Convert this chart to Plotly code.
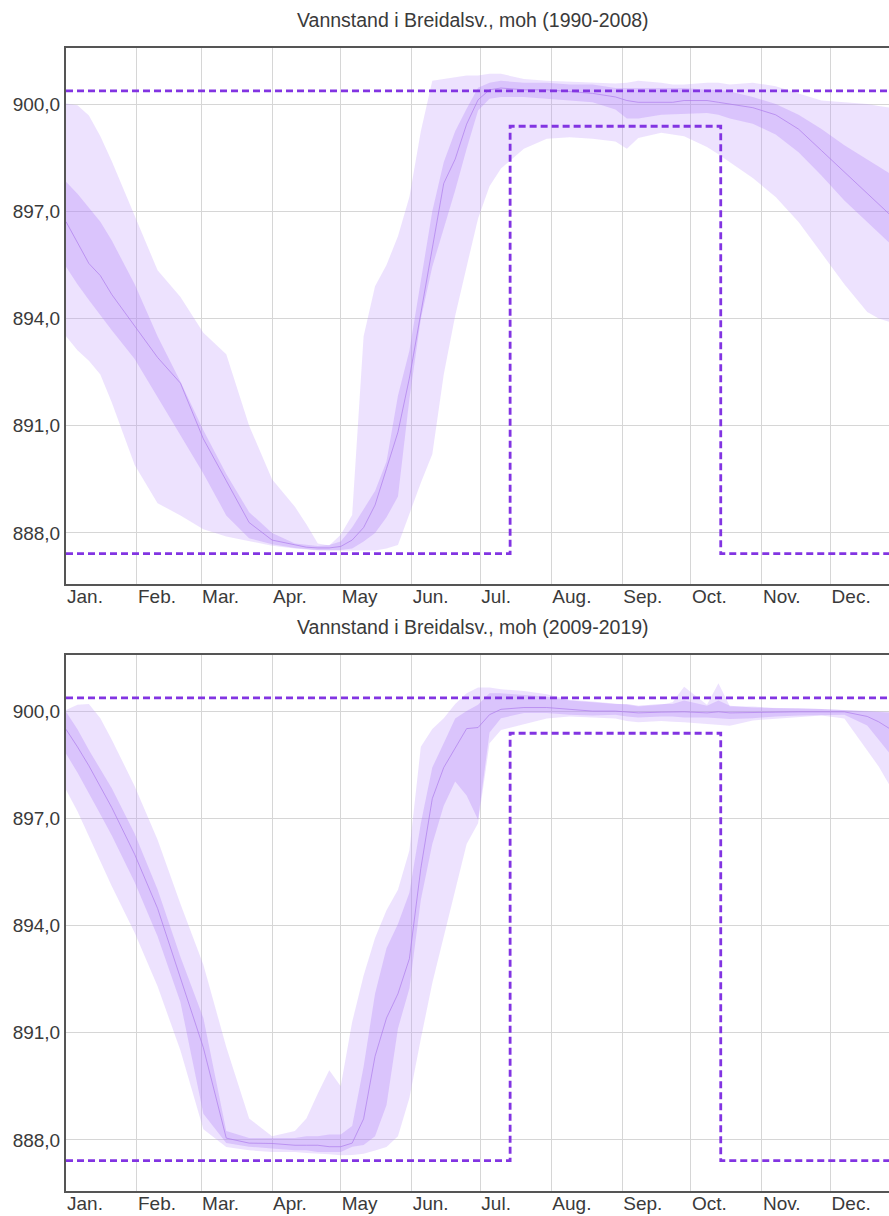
import plotly.graph_objects as go

# ---------------- data ----------------
DAYS = [0, 5, 10, 15, 20, 30, 40, 50, 60, 70, 80, 90, 100, 105, 110, 115, 120, 125,
        130, 135, 140, 145, 150, 155, 160, 165, 170, 175, 180, 185, 190, 200, 210,
        220, 230, 240, 245, 250, 260, 265, 270, 280, 285, 290, 300, 310, 320, 330,
        340, 350, 355, 360]

# Panel 1: 1990-2008
P1_MAX = [900.02, 899.97, 899.68, 899.10, 898.40, 896.90, 895.35, 894.60, 893.60, 893.00,
          891.00, 889.50, 888.73, 888.24, 887.70, 887.65, 887.95, 888.50, 893.50, 894.90,
          895.50, 896.30, 897.40, 899.24, 900.65, 900.70, 900.75, 900.80, 900.80, 900.85,
          900.85, 900.70, 900.65, 900.62, 900.60, 900.58, 900.60, 900.65, 900.60, 900.55,
          900.55, 900.60, 900.60, 900.55, 900.60, 900.50, 900.30, 900.10, 900.05, 900.00,
          899.95, 899.90]
P1_Q3 = [897.83, 897.49, 897.10, 896.71, 896.18, 894.96, 893.50, 892.23, 890.87, 889.65,
         888.58, 888.00, 887.70, 887.66, 887.63, 887.66, 887.76, 888.15, 888.68, 889.17,
         890.00, 891.84, 893.10, 895.06, 897.00, 898.37, 899.24, 899.87, 900.46, 900.60,
         900.65, 900.60, 900.60, 900.55, 900.55, 900.45, 900.45, 900.45, 900.45, 900.45,
         900.45, 900.40, 900.40, 900.35, 900.20, 900.00, 899.70, 899.30, 898.85, 898.45,
         898.25, 898.05]
P1_MED = [896.71, 896.13, 895.54, 895.20, 894.67, 893.79, 892.91, 892.19, 890.63, 889.46,
          888.29, 887.80, 887.66, 887.60, 887.58, 887.58, 887.62, 887.80, 888.15, 888.78,
          889.80, 890.82, 892.33, 894.18, 895.93, 897.78, 898.46, 899.44, 900.12, 900.40,
          900.45, 900.40, 900.40, 900.35, 900.30, 900.20, 900.10, 900.05, 900.05, 900.05,
          900.10, 900.10, 900.05, 900.00, 899.90, 899.70, 899.30, 898.70, 898.10, 897.50,
          897.20, 896.90]
P1_Q1 = [895.45, 894.96, 894.52, 894.08, 893.67, 892.87, 891.80, 890.73, 889.66, 888.49,
         887.85, 887.68, 887.58, 887.55, 887.52, 887.52, 887.52, 887.56, 887.76, 888.00,
         888.44, 889.02, 891.75, 893.99, 895.45, 896.52, 897.59, 898.75, 899.82, 900.15,
         900.20, 900.20, 900.15, 900.10, 900.05, 899.85, 899.60, 899.60, 899.70, 899.72,
         899.72, 899.75, 899.70, 899.60, 899.45, 899.15, 898.65, 898.00, 897.30, 896.70,
         896.40, 896.10]
P1_MIN = [893.50, 893.11, 892.82, 892.43, 891.65, 889.90, 888.83, 888.49, 888.10, 887.90,
          887.76, 887.64, 887.56, 887.53, 887.51, 887.50, 887.50, 887.50, 887.51, 887.51,
          887.56, 887.66, 888.54, 889.40, 890.20, 892.43, 894.08, 895.45, 896.80, 897.70,
          898.20, 898.75, 899.03, 899.07, 899.03, 898.95, 898.75, 899.05, 899.20, 899.15,
          899.10, 898.80, 898.60, 898.37, 897.93, 897.40, 896.70, 895.83, 894.96, 894.18,
          894.00, 893.90]

# Panel 2: 2009-2019
P2_MAX = [900.03, 900.18, 900.20, 899.80, 899.20, 897.90, 896.40, 894.60, 892.90, 890.60,
          888.60, 888.10, 888.25, 888.60, 889.30, 889.95, 889.50, 891.30, 892.60, 893.65,
          894.43, 895.00, 896.10, 899.00, 899.50, 899.80, 900.20, 900.50, 900.66, 900.66,
          900.61, 900.56, 900.47, 900.32, 900.27, 900.22, 900.18, 900.13, 900.18, 900.25,
          900.68, 900.18, 900.78, 900.13, 900.13, 900.08, 900.08, 900.06, 900.03, 900.00,
          899.98, 899.98]
P2_Q3 = [899.98, 899.49, 898.91, 898.37, 897.84, 896.57, 895.01, 893.12, 891.41, 888.25,
         888.05, 888.05, 888.05, 888.10, 888.10, 888.15, 888.15, 888.39, 890.05, 892.09,
         893.36, 894.04, 894.92, 896.86, 898.42, 899.10, 899.79, 900.00, 900.18, 900.50,
         900.50, 900.45, 900.40, 900.30, 900.25, 900.20, 900.20, 900.15, 900.20, 900.20,
         900.30, 900.15, 900.30, 900.15, 900.10, 900.10, 900.08, 900.06, 900.03, 900.00,
         899.98, 899.96]
P2_MED = [899.49, 899.00, 898.47, 897.89, 897.30, 895.99, 894.48, 892.53, 890.58, 888.05,
          887.91, 887.90, 887.85, 887.85, 887.85, 887.81, 887.81, 887.91, 888.59, 890.34,
          891.41, 892.09, 893.07, 895.60, 897.55, 898.42, 898.96, 899.51, 899.54, 899.90,
          900.05, 900.10, 900.10, 900.05, 900.00, 900.00, 899.98, 899.95, 899.97, 899.98,
          899.98, 899.95, 899.98, 899.95, 899.95, 899.97, 899.98, 899.98, 899.98, 899.85,
          899.70, 899.50]
P2_Q1 = [898.81, 898.28, 897.69, 897.11, 896.52, 895.21, 893.70, 891.85, 888.73, 887.91,
         887.81, 887.76, 887.71, 887.71, 887.66, 887.66, 887.66, 887.81, 887.86, 888.10,
         888.98, 891.12, 892.24, 894.72, 896.28, 897.35, 898.03, 897.64, 896.96, 899.40,
         899.80, 899.95, 899.95, 899.90, 899.88, 899.90, 899.85, 899.82, 899.85, 899.85,
         899.82, 899.82, 899.80, 899.78, 899.80, 899.85, 899.88, 899.90, 899.90, 899.60,
         899.20, 898.80]
P2_MIN = [897.80, 897.20, 896.50, 895.80, 895.10, 893.80, 892.30, 890.50, 888.30, 887.80,
          887.71, 887.66, 887.66, 887.63, 887.61, 887.60, 887.57, 887.58, 887.61, 887.70,
          887.80, 888.10, 889.17, 890.83, 892.39, 893.65, 895.00, 896.28, 896.86, 899.10,
          899.47, 899.64, 899.79, 899.85, 899.82, 899.79, 899.72, 899.69, 899.72, 899.70,
          899.69, 899.64, 899.62, 899.59, 899.74, 899.79, 899.84, 899.88, 899.79, 898.90,
          898.45, 897.90]

# regulation limits
HRV_DAYS = [0, 365]
HRV_LEVELS = [900.37, 900.37]
LRV_DAYS = [0, 194, 194, 286, 286, 365]
LRV_LEVELS = [887.42, 887.42, 899.38, 899.38, 887.42, 887.42]

MONTH_DAYS = [0, 31, 59, 90, 120, 151, 181, 212, 243, 273, 304, 334]
MONTH_LABELS = ["Jan.", "Feb.", "Mar.", "Apr.", "May", "Jun.", "Jul.", "Aug.",
                "Sep.", "Oct.", "Nov.", "Dec."]
Y_TICKS = [888, 891, 894, 897, 900]

TITLES = ["Vannstand i Breidalsv., moh (1990-2008)",
          "Vannstand i Breidalsv., moh (2009-2019)"]

PANELS = [
    (P1_MAX, P1_Q3, P1_MED, P1_Q1, P1_MIN),
    (P2_MAX, P2_Q3, P2_MED, P2_Q1, P2_MIN),
]

# ---------------- styling ----------------
FONT = "Liberation Sans, Arial, sans-serif"
TXT = "#3a3a3a"
OUTER = "rgba(190,150,250,0.28)"
INNER = "rgba(175,125,250,0.30)"
MEDC = "rgba(170,120,235,0.65)"
DASHC = "#8234e2"
GRID = "#d6d6d6"
AXC = "#555555"

fig = go.Figure()

for i, (mx, q3, md, q1, mn) in enumerate(PANELS):
    xa = "x" if i == 0 else "x2"
    ya = "y" if i == 0 else "y2"
    fig.add_trace(go.Scatter(x=DAYS + DAYS[::-1], y=mx + mn[::-1], fill="toself",
                             fillcolor=OUTER, line=dict(width=0), mode="lines",
                             xaxis=xa, yaxis=ya, hoverinfo="skip"))
    fig.add_trace(go.Scatter(x=DAYS + DAYS[::-1], y=q3 + q1[::-1], fill="toself",
                             fillcolor=INNER, line=dict(width=0), mode="lines",
                             xaxis=xa, yaxis=ya, hoverinfo="skip"))
    fig.add_trace(go.Scatter(x=DAYS, y=md, mode="lines",
                             line=dict(color=MEDC, width=1),
                             xaxis=xa, yaxis=ya, hoverinfo="skip"))
    fig.add_trace(go.Scatter(x=HRV_DAYS, y=HRV_LEVELS, mode="lines",
                             line=dict(color=DASHC, width=2.8, dash="7px,4px"),
                             xaxis=xa, yaxis=ya, hoverinfo="skip"))
    fig.add_trace(go.Scatter(x=LRV_DAYS, y=LRV_LEVELS, mode="lines",
                             line=dict(color=DASHC, width=2.8, dash="7px,4px"),
                             xaxis=xa, yaxis=ya, hoverinfo="skip"))

H = 1216
T, B = 48, 25
PH = H - T - B
p1_bottom = (1191 - 584) / PH
p2_top = (1191 - 655) / PH

xcommon = dict(range=[0, 359.5], tickmode="array", tickvals=MONTH_DAYS,
               ticktext=MONTH_LABELS, ticklabelposition="outside right",
               showgrid=True, gridcolor=GRID, gridwidth=1, zeroline=False,
               showline=True, linecolor=AXC, linewidth=2, mirror=True,
               ticks="", tickfont=dict(family=FONT, size=19, color=TXT),
               automargin=False, fixedrange=True)
ycommon = dict(range=[886.57, 901.57], tickmode="array", tickvals=Y_TICKS,
               tickformat=".1f", showgrid=True, gridcolor=GRID, gridwidth=1,
               zeroline=False, showline=True, linecolor=AXC, linewidth=2,
               mirror=False, ticks="", tickfont=dict(family=FONT, size=19, color=TXT),
               automargin=False, fixedrange=True)

fig.update_layout(
    width=889, height=H,
    margin=dict(l=66, r=0, t=T, b=B),
    paper_bgcolor="white", plot_bgcolor="white",
    showlegend=False, hovermode=False,
    separators=", ",
    font=dict(family=FONT, color=TXT),
    xaxis=dict(domain=[0, 1], anchor="y", **xcommon),
    yaxis=dict(domain=[p1_bottom, 1], anchor="x", **ycommon),
    xaxis2=dict(domain=[0, 1], anchor="y2", **xcommon),
    yaxis2=dict(domain=[0, p2_top], anchor="x2", **ycommon),
)
try:
    fig.update_xaxes(ticklabelstandoff=-6)
except Exception:
    pass

title_x = (473 - 66) / 823
for title, ypix in zip(TITLES, [20, 627]):
    fig.add_annotation(text=title, xref="paper", yref="paper",
                       x=title_x, y=(1191 - ypix) / PH, xanchor="center",
                       yanchor="middle", showarrow=False,
                       font=dict(family=FONT, size=19.5, color=TXT))

fig.write_html("out.html")
